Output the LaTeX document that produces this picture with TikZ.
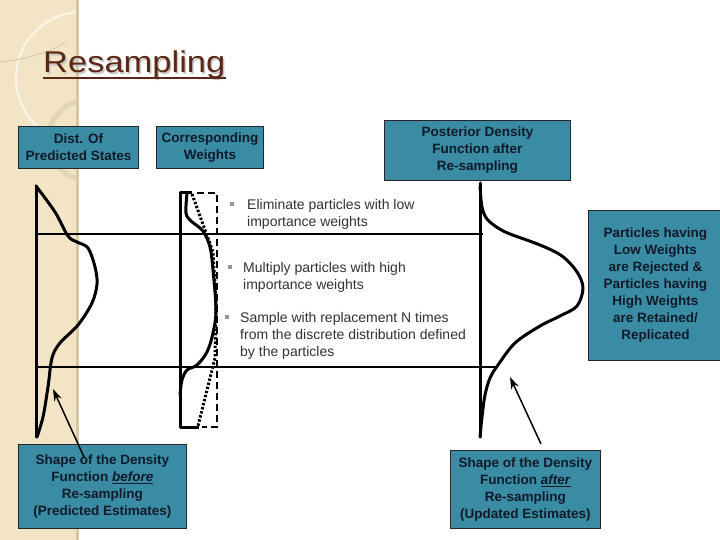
\documentclass[tikz,border=0pt]{standalone}
\usepackage{fontspec}
\setmainfont{Liberation Sans}
\usetikzlibrary{arrows.meta}
\definecolor{beige}{RGB}{242,228,196}
\definecolor{beigeedge}{RGB}{214,200,166}
\definecolor{tealbox}{RGB}{58,140,165}
\definecolor{boxtext}{RGB}{16,26,40}
\definecolor{titlebrown}{RGB}{92,40,22}
\definecolor{bullettext}{RGB}{50,50,50}
\definecolor{bulletgrey}{RGB}{150,150,150}
\tikzset{
  infobox/.style={draw=black!85, line width=0.8pt, fill=tealbox, text=boxtext,
    font=\fontsize{13.5}{17}\selectfont\bfseries, align=center, inner sep=0pt, anchor=north west},
  bullettxt/.style={text=bullettext, font=\fontsize{14}{17}\selectfont, align=left, inner sep=0pt, anchor=north west},
  bulletmark/.style={fill=bulletgrey, inner sep=0pt, minimum size=3.5pt},
  curveline/.style={line width=3pt, line join=round, line cap=round},
  guideline/.style={line width=1.1pt},
  pointer/.style={line width=1.5pt, -{Stealth[length=12pt,width=8pt]}},
  titletext/.style={anchor=base west, inner sep=0pt, font=\fontsize{30}{30}\selectfont},
}
\begin{document}
\begin{tikzpicture}[x=1pt,y=-1pt]
\useasboundingbox (0,0) rectangle (720,540);
\fill[white] (0,0) rectangle (720,540);
% decorative strip
\fill[beige] (0,0) rectangle (79,540);
\begin{scope}
  \clip (0,0) rectangle (77,540);
  \draw[white, opacity=0.65, line width=2pt] (82,78) circle[radius=66pt];
  \draw[black, opacity=0.06, line width=5pt] (88,140) circle[radius=40pt];
  \draw[beigeedge, line width=0.8pt] (0,62) .. controls (20,60) and (45,55) .. (66,42);
\end{scope}
\fill[beigeedge] (76,0) rectangle (79,540);

% title
\node[titletext, text=black!22] (titleshadow) at (44.5,74.5) {\scalebox{1.15}[1]{Resampling}};
\node[titletext, text=titlebrown] (title) at (43,73) {\scalebox{1.15}[1]{Resampling}};
\draw[titlebrown, line width=2.8pt] ([yshift=-5pt]title.base west) -- ([yshift=-5pt]title.base east);

% header boxes
\node[infobox, minimum width=120pt, minimum height=42pt] (dist) at (18,126) {Dist. Of\\Predicted States};
\node[infobox, minimum width=107pt, minimum height=42pt] (weights) at (156,126) {Corresponding\\Weights};
\node[infobox, minimum width=186pt, minimum height=60pt] (posterior) at (384,120) {Posterior Density\\Function after\\Re-sampling};
\node[infobox, minimum width=134pt, minimum height=150pt] (particles) at (588,210) {Particles having\\Low Weights\\are Rejected \&\\Particles having\\High Weights\\are Retained/\\Replicated};

% guide lines
\draw[guideline] (36,234) -- (483,234);
\draw[guideline] (36,367) -- (496,367);

% left density (before)
\draw[curveline] (36,186) -- (36,437);
\draw[curveline] plot[smooth, tension=0.55] coordinates {(36,186) (55,212) (68,236) (77,242) (88,248) (95,267) (97,284) (92,303) (78,325) (60,343) (52,358) (48,387) (43,417) (37,437)};

% weights graphic
\draw[curveline, line cap=butt] (192,193) -- (180,193) -- (180,427) -- (199,427);
\draw[curveline] plot[smooth, tension=0.55] coordinates {(187,193) (186,213) (191,221) (203,231) (210,247) (213,270) (216,310) (213,333) (207,352) (197,365) (187,370) (182,380) (180,395)};
\draw[line width=2.8pt, dash pattern=on 7pt off 4pt] (197,193) -- (217,193) -- (217,427) -- (202,427);
\draw[line width=3pt, dash pattern=on 2.4pt off 1.8pt] (192,194) -- (213,252) -- (216,300) -- (215,358) -- (198,426);

% bullets
\node[bulletmark] (m1) at (232,204) {};
\node[bullettxt] (t1) at (247,199.5) {Eliminate particles with low\\importance weights};
\node[bulletmark] (m2) at (230,267) {};
\node[bullettxt] (t2) at (243,262.5) {Multiply particles with high\\importance weights};
\node[bulletmark] (m3) at (227,317) {};
\node[bullettxt] (t3) at (240,312) {Sample with replacement N times\\from the discrete distribution defined\\by the particles};

% right density (after)
\draw[curveline] (480,183) -- (480,437);
\draw[curveline] plot[smooth, tension=0.55] coordinates {(480,186) (482,207) (487,219) (498,228) (510,234) (540,245) (562,256) (577,272) (583,288) (577,306) (560,316) (540,326) (515,343) (498,365) (490,378) (485,395) (482,417) (480,437)};

% bottom boxes
\node[infobox, minimum width=168pt, minimum height=84pt] (before) at (18,444) {Shape of the Density\\Function \underline{\textit{before}}\\Re-sampling\\(Predicted Estimates)};
\node[infobox, minimum width=150pt, minimum height=78pt] (after) at (450,450) {Shape of the Density\\Function \underline{\textit{after}}\\Re-sampling\\(Updated Estimates)};

% pointers
\coordinate (ltail) at (84,457);
\coordinate (lhead) at (53,389);
\draw[pointer] (ltail) -- (lhead);
\coordinate (rtail) at (541,444);
\coordinate (rhead) at (510,377);
\draw[pointer] (rtail) -- (rhead);
\end{tikzpicture}
\end{document}
